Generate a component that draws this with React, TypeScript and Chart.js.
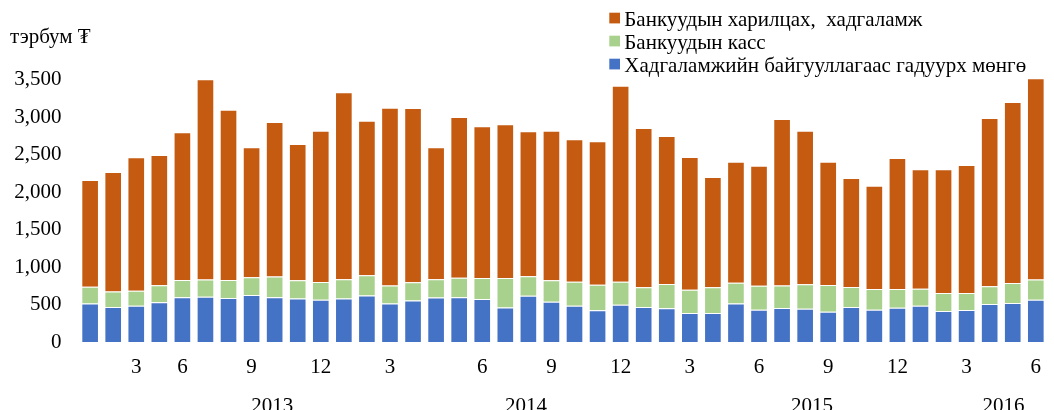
import React, { useEffect, useRef } from 'react';
import { Chart, registerables } from 'chart.js';

Chart.register(...registerables);

// Month tick labels (one per bar)
const monthTicks = ['', '', '3', '', '6', '', '', '9', '', '', '12', '', '', '3', '', '', '', '6', '', '', '9', '', '', '12', '', '', '3', '', '', '6', '', '', '9', '', '', '12', '', '', '3', '', '', '6'];

// Year labels and the category position they are centred on
const yearLabels = ['2013', '2014', '2015', '2016'];
const yearCenters = [7.9, 18.9, 31.3, 39.6];

// Y-axis tick values
const yTickValues = [0, 500, 1000, 1500, 2000, 2500, 3000, 3500];

// Series (тэрбум ₮)
const outsideDeposits = [512, 467, 484, 530, 597, 602, 587, 627, 597, 580, 562, 580, 619, 512, 552, 592, 597, 575, 460, 618, 538, 484, 422, 498, 466, 449, 386, 386, 515, 431, 453, 444, 404, 466, 431, 458, 484, 413, 427, 506, 520, 564];
const bankCash = [226, 205, 201, 226, 230, 230, 240, 235, 275, 243, 238, 257, 270, 240, 244, 245, 261, 279, 394, 259, 284, 320, 342, 306, 263, 324, 312, 343, 276, 320, 302, 325, 356, 267, 275, 248, 227, 240, 226, 236, 266, 271];
const currentAndDeposits = [1422, 1595, 1777, 1737, 1969, 2670, 2271, 1734, 2062, 1817, 2018, 2492, 2062, 2373, 2324, 1759, 2142, 2022, 2048, 1932, 1996, 1898, 1912, 2614, 2124, 1974, 1769, 1471, 1614, 1600, 2218, 2049, 1645, 1454, 1379, 1747, 1591, 1649, 1707, 2245, 2414, 2681];

const seriesNames = [
  'Хадгаламжийн байгууллагаас гадуурх мөнгө',
  'Банкуудын касс',
  'Банкуудын харилцах,  хадгаламж',
];
const unitLabel = 'тэрбум ₮';

const COLORS = ['#4472C4', '#A9D18E', '#C55A11'];
const FONT = '"Liberation Serif", "Times New Roman", "DejaVu Serif", serif';

const overlayPlugin = {
  id: 'overlay',
  afterDraw(chart: any) {
    const ctx = chart.ctx;
    const x = chart.scales.x;
    ctx.save();
    ctx.fillStyle = '#000';
    // year labels
    ctx.font = `21px ${FONT}`;
    ctx.textAlign = 'center';
    ctx.textBaseline = 'alphabetic';
    yearLabels.forEach((lab, i) => {
      ctx.fillText(lab, x.getPixelForValue(yearCenters[i]), 411.5);
    });
    // unit label
    ctx.textAlign = 'left';
    ctx.font = `21px ${FONT}`;
    ctx.fillText(unitLabel, 10, 43);
    // legend (top to bottom: orange, green, blue)
    const order = [2, 1, 0];
    const baselines = [26, 49, 72];
    ctx.font = `21px ${FONT}`;
    order.forEach((di, row) => {
      ctx.fillStyle = COLORS[di];
      ctx.fillRect(609.3, baselines[row] - 13.3, 10.7, 10.7);
      ctx.fillStyle = '#000';
      ctx.fillText(seriesNames[di], 624.3, baselines[row]);
    });
    ctx.restore();
  },
};

export default function App() {
  const ref = useRef<HTMLCanvasElement | null>(null);
  useEffect(() => {
    if (!ref.current) return;
    const series = [outsideDeposits, bankCash, currentAndDeposits];
    const chart = new Chart(ref.current, {
      type: 'bar',
      data: {
        labels: monthTicks,
        datasets: series.map((d, i) => ({
          label: seriesNames[i],
          data: d,
          backgroundColor: COLORS[i],
          borderColor: 'rgba(255,255,255,0.45)',
          borderWidth: 1,
          barPercentage: 0.765,
          categoryPercentage: 1,
        })),
      },
      options: {
        responsive: false,
        animation: false,
        layout: { padding: { top: 72, right: 3.6, left: 0, bottom: 0 } },
        plugins: { legend: { display: false }, tooltip: { enabled: false } },
        scales: {
          x: {
            stacked: true,
            grid: { display: false, drawTicks: false },
            border: { display: false },
            ticks: {
              autoSkip: false,
              maxRotation: 0,
              minRotation: 0,
              padding: 12.9,
              color: '#000',
              font: { family: FONT, size: 21 },
            },
            afterFit(s: any) { s.height = 68; },
          },
          y: {
            stacked: true,
            min: 0,
            max: 3600,
            grid: { display: false, drawTicks: false },
            border: { display: false },
            ticks: {
              autoSkip: false,
              padding: 17,
              color: '#000',
              font: { family: FONT, size: 21 },
              callback: (v: any) => Number(v).toLocaleString('en-US'),
            },
            afterBuildTicks(s: any) { s.ticks = yTickValues.map((v) => ({ value: v })); },
            afterFit(s: any) { s.width = 78.6; },
          },
        },
      },
      plugins: [overlayPlugin],
    });
    return () => chart.destroy();
  }, []);
  return (
    <div style={{ position: 'absolute', left: 0, top: 0, width: 1054, height: 410, background: '#fff' }}>
      <canvas ref={ref} width={1054} height={410} />
    </div>
  );
}
